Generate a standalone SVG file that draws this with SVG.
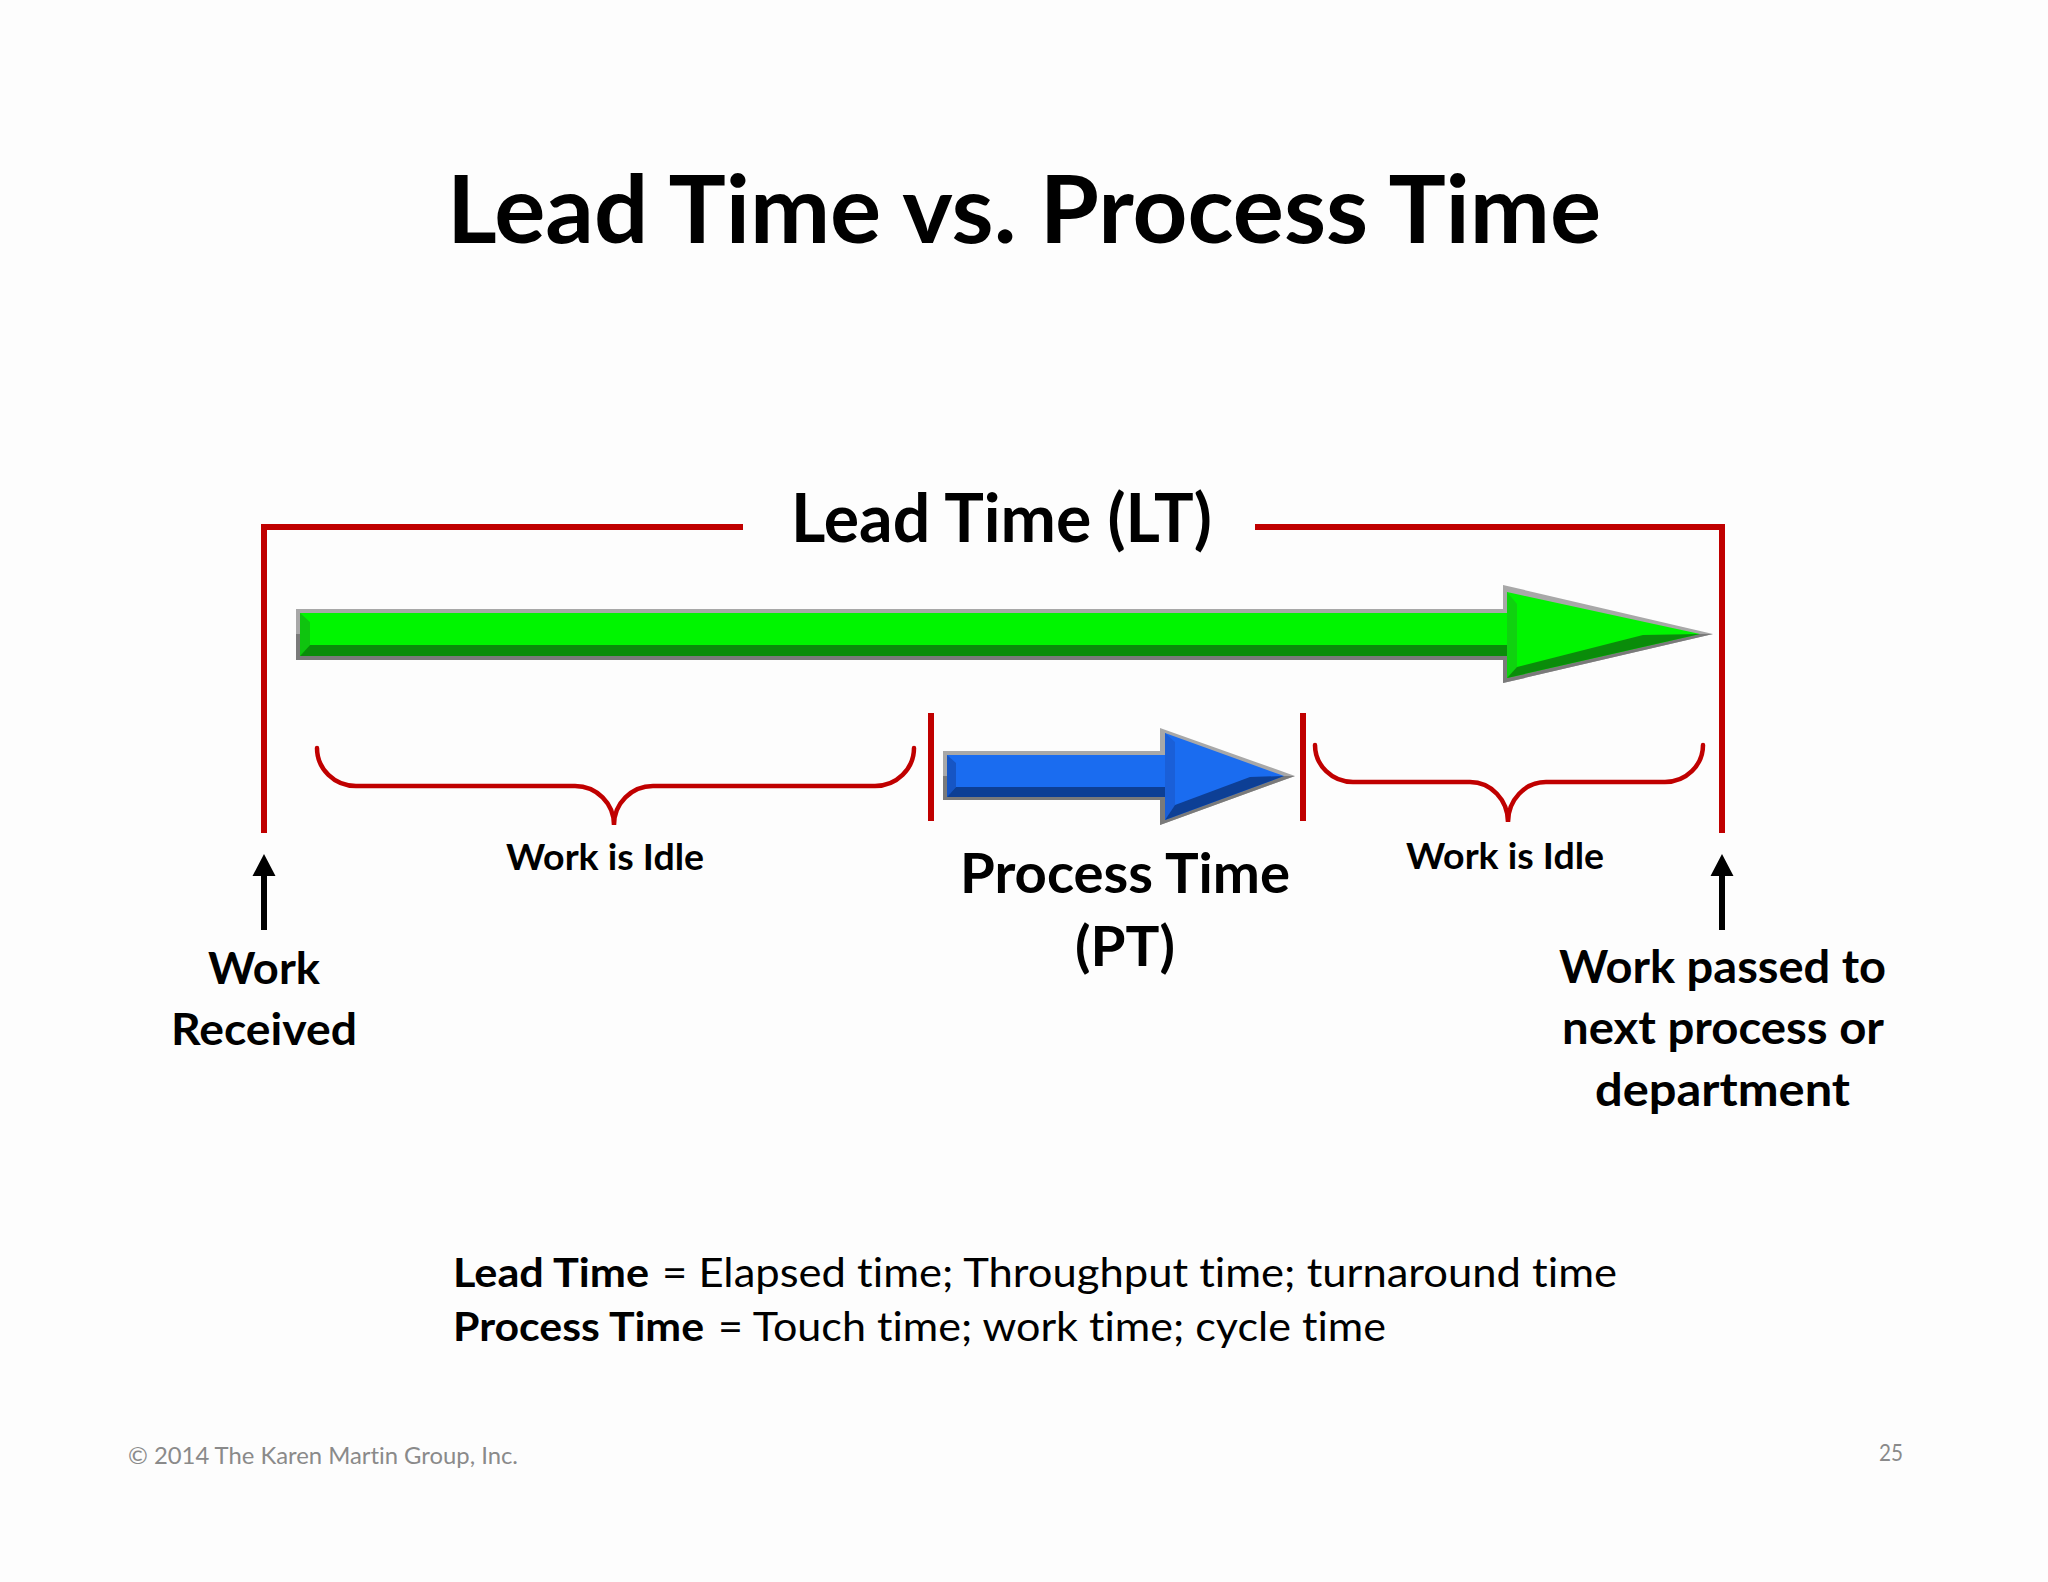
<svg xmlns="http://www.w3.org/2000/svg" width="2048" height="1582" viewBox="0 0 2048 1582">
  <defs>
    <style>
      text { font-variant-ligatures: none; font-feature-settings: "liga" 0, "clig" 0; }
      .t { font-family: Lato, "Open Sans", "Liberation Sans", sans-serif; fill: #000; }
      .b { font-weight: 700; }
      .r { font-weight: 400; }
      .red { stroke: #c00000; stroke-width: 6; fill: none; }
      .brace { stroke: #c00000; stroke-width: 4.5; fill: none; stroke-linecap: round; }
      .arrow { fill: #000; }
      .foot { font-family: Lato, "Open Sans", "Liberation Sans", sans-serif; fill: #8a8a8a; font-weight: 400; }
    </style>
  </defs>
  <rect x="0" y="0" width="2048" height="1582" fill="#fdfdfd"/>

  <g id="title">
    <text class="t b" x="447" y="243" font-size="94" textLength="1154" lengthAdjust="spacingAndGlyphs">Lead Time vs. Process Time</text>
  </g>

  <g id="lead-time-label">
    <text class="t b" x="791" y="542" font-size="66" textLength="421" lengthAdjust="spacingAndGlyphs">Lead Time (LT)</text>
  </g>

  <g id="green-arrow">
    <polygon points="296,609 1503,609 1503,585 1713,634 1503,683 1503,660 296,660" fill="#a8a8a8"/>
    <polygon points="1503,660 296,660 296,634 1503,634 1503,634 1713,634 1503,683" fill="#7a7a7a"/>
    <polygon points="300,613 1507,613 1507,592 1700,634 1507,678 1507,656 300,656" fill="#00f500"/>
    <polygon points="300,613 310,622 310,645 300,656" fill="#0fc40f"/>
    <polygon points="310,645 1517,645 1517,656 300,656" fill="#0a8c0a"/>
    <polygon points="1507,592 1517,604 1517,667 1507,678" fill="#0fd20f"/>
    <polygon points="1517,667 1643,635 1700,634 1507,678" fill="#0a8c0a"/>
  </g>

  <g id="blue-arrow">
    <polygon points="943,751 1160,751 1160,728 1295,776 1160,825 1160,800 943,800" fill="#a8a8a8"/>
    <polygon points="943,776 1295,776 1160,825 1160,800 943,800" fill="#7a7a7a"/>
    <polygon points="947,755 1165,755 1165,733 1284,776 1165,820 1165,797 947,797" fill="#1a6cf0"/>
    <polygon points="947,755 956,763 956,787 947,797" fill="#1655c4"/>
    <polygon points="956,787 1175,787 1175,797 947,797" fill="#0d3f95"/>
    <polygon points="1165,733 1175,742 1175,805 1165,820" fill="#1a5fd8"/>
    <polygon points="1175,805 1250,777 1284,776 1165,820" fill="#0d3f95"/>
  </g>

  <g id="connectors">
    <polyline class="red" points="743,527 264,527 264,833"/>
    <polyline class="red" points="1255,527 1722,527 1722,833"/>
    <line class="red" x1="931" y1="713" x2="931" y2="821"/>
    <line class="red" x1="1303" y1="713" x2="1303" y2="821"/>
    <path class="brace" d="M317,748 A39,38 0 0 0 356,786 L575,786 A39,39 0 0 1 614,825 A39,39 0 0 1 653,786 L875,786 A39,38 0 0 0 914,748"/>
    <path class="brace" d="M1315,745 A38,37 0 0 0 1353,782 L1470,782 A38,40 0 0 1 1508,822 A38,40 0 0 1 1546,782 L1665,782 A38,37 0 0 0 1703,745"/>
    <polygon class="arrow" points="264,854 275.5,876 267,876 267,930 261,930 261,876 252.5,876"/>
    <polygon class="arrow" points="1722,854 1733.5,876 1725,876 1725,930 1719,930 1719,876 1710.5,876"/>
  </g>

  <g id="idle-left">
    <text class="t b" x="506" y="870" font-size="36" textLength="198" lengthAdjust="spacingAndGlyphs">Work is Idle</text>
  </g>
  <g id="idle-right">
    <text class="t b" x="1406" y="869" font-size="36" textLength="198" lengthAdjust="spacingAndGlyphs">Work is Idle</text>
  </g>
  <g id="process-time-label">
    <text class="t b" x="960" y="893" font-size="55" textLength="330" lengthAdjust="spacingAndGlyphs">Process Time</text>
    <text class="t b" x="1075" y="966" font-size="55" textLength="100" lengthAdjust="spacingAndGlyphs">(PT)</text>
  </g>
  <g id="work-received">
    <text class="t b" x="208" y="984" font-size="44" textLength="112" lengthAdjust="spacingAndGlyphs">Work</text>
    <text class="t b" x="171" y="1045" font-size="44" textLength="186" lengthAdjust="spacingAndGlyphs">Received</text>
  </g>
  <g id="work-passed">
    <text class="t b" x="1559" y="983" font-size="45" textLength="327" lengthAdjust="spacingAndGlyphs">Work passed to</text>
    <text class="t b" x="1562" y="1044" font-size="45" textLength="322" lengthAdjust="spacingAndGlyphs">next process or</text>
    <text class="t b" x="1595" y="1106" font-size="45" textLength="255" lengthAdjust="spacingAndGlyphs">department</text>
  </g>

  <g id="definitions">
    <text class="t b" x="453" y="1287" font-size="41" textLength="196" lengthAdjust="spacingAndGlyphs">Lead Time</text>
    <text class="t r" x="662" y="1287" font-size="41" textLength="955" lengthAdjust="spacingAndGlyphs">= Elapsed time; Throughput time; turnaround time</text>
    <text class="t b" x="453" y="1341" font-size="41" textLength="251" lengthAdjust="spacingAndGlyphs">Process Time</text>
    <text class="t r" x="718" y="1341" font-size="41" textLength="668" lengthAdjust="spacingAndGlyphs">= Touch time; work time; cycle time</text>
  </g>

  <g id="footer">
    <text class="foot" x="128" y="1464" font-size="24" textLength="390" lengthAdjust="spacingAndGlyphs">© 2014 The Karen Martin Group, Inc.</text>
    <text class="foot" x="1879" y="1461" font-size="24" textLength="24" lengthAdjust="spacingAndGlyphs">25</text>
  </g>
</svg>
